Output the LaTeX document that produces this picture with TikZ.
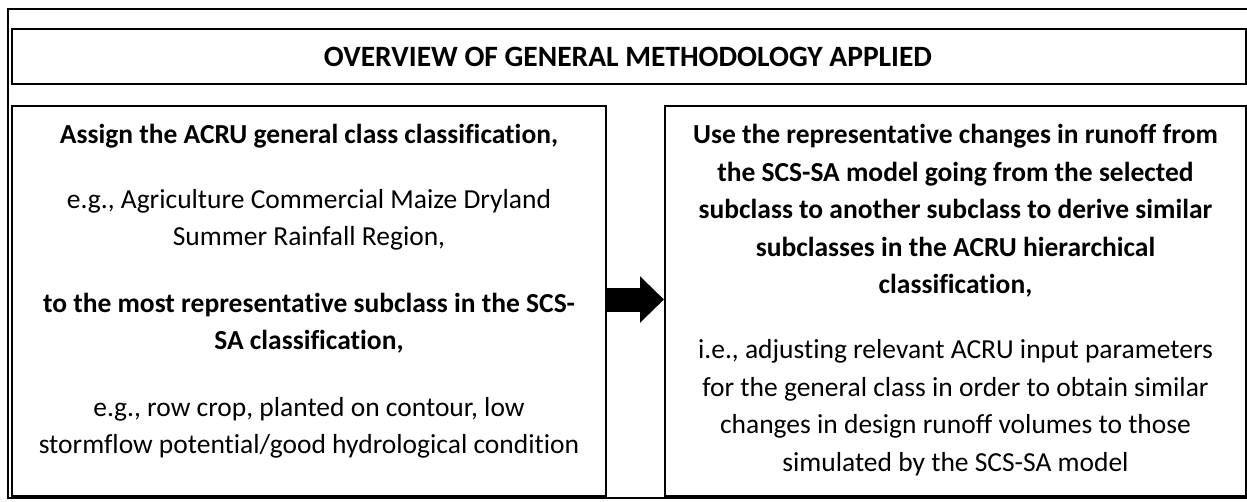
\documentclass[tikz,border=0pt]{standalone}
\usepackage{fontspec}
\setmainfont{Carlito}[Ligatures={NoCommon}]
\usetikzlibrary{arrows.meta}
\begin{document}
\begin{tikzpicture}[x=1pt,y=-1pt,
  boxstyle/.style={draw=black, line width=2pt, inner sep=0pt},
  bodytext/.style={font=\fontsize{27.5}{33}\selectfont, anchor=base, inner sep=0pt},
  boldtext/.style={font=\fontsize{27.5}{33}\selectfont\bfseries, anchor=base, inner sep=0pt},
  titletext/.style={font=\fontsize{29.5}{35}\selectfont\bfseries, anchor=base, inner sep=0pt},
  flowarrow/.style={line width=24pt, -{Triangle[length=24pt,width=45pt]}}]
\useasboundingbox (0,0) rectangle (1247,501);
% outer frame
\draw[line width=2.5pt] (1260,9) -- (8,9) -- (8,498) -- (1260,498);
% boxes
\node[boxstyle, minimum width=1234pt, minimum height=55pt] (title) at (629,56.5) {};
\node[boxstyle, minimum width=594pt, minimum height=390pt] (left) at (309,301) {};
\node[boxstyle, minimum width=581pt, minimum height=390pt] (right) at (955.5,301) {};
% title
\node[titletext] (tt) at (628,66.5) {OVERVIEW OF GENERAL METHODOLOGY APPLIED};
% left box text
\node[boldtext] (l1) at (309,143.5) {Assign the ACRU general class classification,};
\node[bodytext] (l2) at (309,208.5) {e.g., Agriculture Commercial Maize Dryland};
\node[bodytext] (l3) at (309,245.5) {Summer Rainfall Region,};
\node[boldtext] (l4) at (309,312) {to the most representative subclass in the SCS-};
\node[boldtext] (l5) at (309,349.5) {SA classification,};
\node[bodytext] (l6) at (309,416.5) {e.g., row crop, planted on contour, low};
\node[bodytext] (l7) at (309,453.5) {stormflow potential/good hydrological condition};
% right box text
\node[boldtext] (r1) at (955.5,143.5) {Use the representative changes in runoff from};
\node[boldtext] (r2) at (955.5,181) {the SCS-SA model going from the selected};
\node[boldtext] (r3) at (955.5,218.5) {subclass to another subclass to derive similar};
\node[boldtext] (r4) at (955.5,256) {subclasses in the ACRU hierarchical};
\node[boldtext] (r5) at (955.5,293.5) {classification,};
\node[bodytext] (r6) at (955.5,358.5) {i.e., adjusting relevant ACRU input parameters};
\node[bodytext] (r7) at (955.5,396) {for the general class in order to obtain similar};
\node[bodytext] (r8) at (955.5,433.5) {changes in design runoff volumes to those};
\node[bodytext] (r9) at (955.5,471) {simulated by the SCS-SA model};
% arrow
\draw[flowarrow] ([yshift=1.5pt]left.east) -- ([yshift=1.5pt]right.west);
\end{tikzpicture}
\end{document}
